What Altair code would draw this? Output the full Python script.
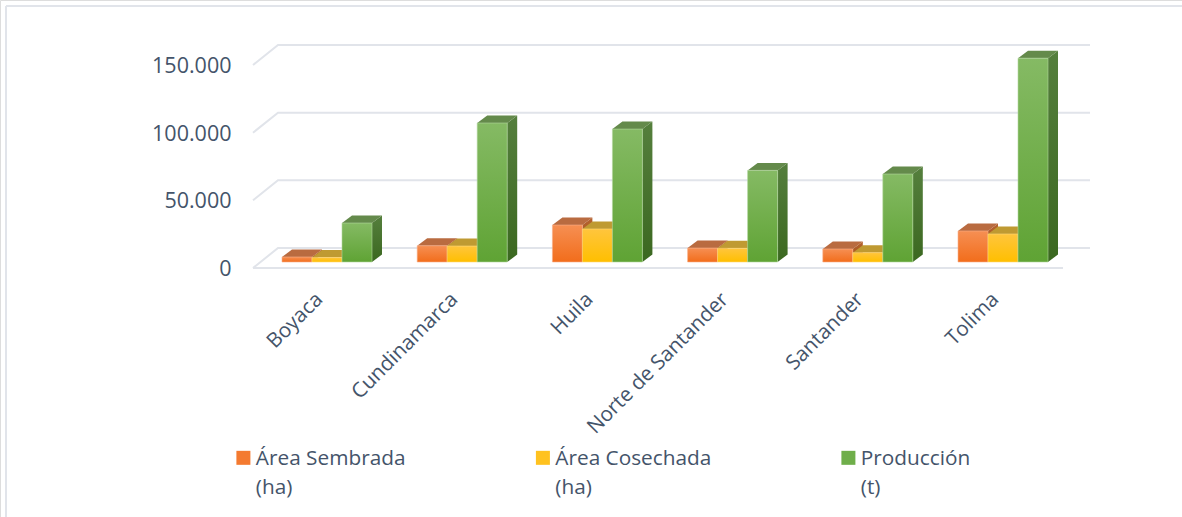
import altair as alt
import pandas as pd

# Cultivated area, harvested area and production by department
departments = ["Boyaca", "Cundinamarca", "Huila", "Norte de Santander", "Santander", "Tolima"]
sown_area = [3700, 12000, 27300, 10300, 9600, 22900]
harvested_area = [3300, 11800, 24400, 10100, 6900, 20700]
production = [28800, 102700, 98200, 67700, 65000, 150600]
series_names = ["Área Sembrada\n(ha)", "Área Cosechada\n(ha)", "Producción\n(t)"]
y_ticks = [0, 50000, 100000, 150000]

W, H = 1182, 517
PX_PER_GROUP = 135.2      # horizontal distance between departments
PX_PER_VALUE = 203 / 150000
FIRST_GROUP_PX = 327
ZERO_PX = 268             # baseline of the value axis, front of the floor
BAR_PX = 30
BAR_LIFT = 6              # bars stand slightly behind the front edge of the floor
DEPTH_X, DEPTH_Y = 10, 7.5
WALL_X, WALL_Y = 25, 20
FLOOR_LEFT, FLOOR_FRONT_RIGHT, WALL_RIGHT = 253, 1063, 1090
TEXT = "#44546a"
GRID = "#e1e4ea"


def dx(px):
    return px / PX_PER_GROUP


def dy(px):
    return px / PX_PER_VALUE


def x_at(px):
    return (px - FIRST_GROUP_PX) / PX_PER_GROUP


x_scale = alt.Scale(domain=[x_at(0), x_at(W)], nice=False, zero=False)
y_scale = alt.Scale(domain=[dy(ZERO_PX - H), dy(ZERO_PX)], nice=False, zero=False)


def gradient(top, bottom):
    return alt.Gradient(
        gradient="linear", x1=0, x2=0, y1=0, y2=1,
        stops=[alt.GradientStop(offset=0, color=top), alt.GradientStop(offset=1, color=bottom)],
    )


# Colours of each series: front (top, bottom), lit top face, shaded side (top, bottom), edge
palette = [
    dict(front=("#f68f53", "#f26d1b"), top="#b96b40", side=("#b5622f", "#a05219"), edge="#f8b08a"),
    dict(front=("#ffc53d", "#ffbf00"), top="#bf9a32", side=("#bf9430", "#b18a10"), edge="#ffd878"),
    dict(front=("#85ba64", "#5fa334"), top="#648a4b", side=("#557f3d", "#3b6820"), edge="#b3d6a0"),
]
values = [sown_area, harvested_area, production]

layers = []

# Walls and floor: each tick runs along the left wall, then across the back wall
grid_rows = []
for tick in y_ticks:
    path = [(FLOOR_LEFT, 0), (FLOOR_LEFT + WALL_X, WALL_Y), (WALL_RIGHT, WALL_Y)]
    for k, (px, lift) in enumerate(path):
        grid_rows.append(dict(tick=tick, k=k, x=x_at(px), y=tick + dy(lift)))
layers.append(
    alt.Chart(pd.DataFrame(grid_rows))
    .mark_line(color=GRID, strokeWidth=2)
    .encode(
        x=alt.X("x:Q", scale=x_scale,
                axis=alt.Axis(
                    values=list(range(len(departments))),
                    labelExpr="[" + ",".join(f"'{d}'" for d in departments) + "][datum.value]",
                    labelAngle=-45, labelAlign="right", labelBaseline="middle",
                    labelFont="Open Sans", labelFontSize=20.6, labelColor=TEXT,
                    labelOverlap=False, labelFlush=False, labelPadding=0,
                    labelBound=False, labelOffset=-8, labelLimit=400,
                    ticks=False, domain=False, grid=False, title=None,
                    offset=-(H - 296),
                )),
        y=alt.Y("y:Q", scale=y_scale,
                axis=alt.Axis(
                    values=y_ticks, format=",.0f",
                    labelExpr="replace(datum.label, ',', '.')",
                    labelFont="Open Sans", labelFontSize=21.5, labelColor=TEXT,
                    labelPadding=0, labelOverlap=False, labelFlush=False, labelBound=False,
                    labelOffset=1.5,
                    ticks=False, domain=False, grid=False, title=None, offset=-231,
                )),
        detail="tick:N",
        order="k:Q",
    )
)
floor_front = pd.DataFrame({"x": [x_at(FLOOR_LEFT), x_at(FLOOR_FRONT_RIGHT)], "y": [0, 0]})
layers.append(
    alt.Chart(floor_front).mark_line(color=GRID, strokeWidth=2).encode(
        x=alt.X("x:Q", scale=x_scale), y=alt.Y("y:Q", scale=y_scale))
)

# Each series is painted left to right so nearer faces cover the ones behind them
for s, (name, series, colours) in enumerate(zip(series_names, values, palette)):
    base = dy(BAR_LIFT)
    offset = (s - 1.5) * BAR_PX / PX_PER_GROUP
    front, top_face, side_face = [], [], []
    for i, (dept, v) in enumerate(zip(departments, series)):
        x0 = i + offset
        x1 = x0 + dx(BAR_PX)
        front.append(dict(dept=dept, x0=x0, x1=x1, y0=base, y1=base + v))
        for t in (0.0, 1.0):
            top_face.append(dict(dept=dept, y=base + v + t * dy(DEPTH_Y),
                                 xa=x0 + t * dx(DEPTH_X), xb=x1 + t * dx(DEPTH_X)))
            side_face.append(dict(dept=dept, x=x1 + t * dx(DEPTH_X),
                                  ya=base + t * dy(DEPTH_Y), yb=base + v + t * dy(DEPTH_Y)))
    layers.append(
        alt.Chart(pd.DataFrame(side_face))
        .mark_area(color=gradient(*colours["side"]), orient="vertical")
        .encode(x=alt.X("x:Q", scale=x_scale), y=alt.Y("yb:Q", scale=y_scale), y2="ya:Q", detail="dept:N")
    )
    layers.append(
        alt.Chart(pd.DataFrame(top_face))
        .mark_area(color=colours["top"], orient="horizontal")
        .encode(y=alt.Y("y:Q", scale=y_scale), x=alt.X("xa:Q", scale=x_scale), x2="xb:Q", detail="dept:N")
    )
    layers.append(
        alt.Chart(pd.DataFrame(front))
        .mark_bar(color=gradient(*colours["front"]), stroke=colours["edge"], strokeWidth=0.6)
        .encode(x=alt.X("x0:Q", scale=x_scale), x2="x1:Q", y=alt.Y("y0:Q", scale=y_scale), y2="y1:Q")
    )

# Legend, carried by a layer whose own marks have no size; the square sits level
# with the first line of its two-line label
legend_table = pd.DataFrame({"serie": series_names, "x": [0] * 3, "y": [0] * 3})
layers.append(
    alt.Chart(legend_table)
    .mark_square(size=0, opacity=1)
    .encode(
        x=alt.X("x:Q", scale=x_scale),
        y=alt.Y("y:Q", scale=y_scale),
        color=alt.Color(
            "serie:N",
            scale=alt.Scale(domain=series_names, range=["#f47a30", "#ffc21f", "#6fae4a"]),
            legend=alt.Legend(
                orient="none", legendX=233, legendY=438, direction="horizontal", columns=3,
                columnPadding=126.5, title=None, symbolType="M-1,0.29H1V2.29H-1Z",
                symbolSize=196, symbolStrokeWidth=0, symbolOpacity=1,
                labelFont="Open Sans", labelFontSize=20.8,
                labelColor=TEXT, labelLimit=300, labelOffset=2, labelBaseline="top",
                labelExpr="split(datum.label, '\\n')",
            ),
        ),
    )
)

# Page frame: top and left edges only
layers.append(alt.Chart(pd.DataFrame({"a": [0]})).mark_rule(color=GRID, strokeWidth=2).encode(
    x=alt.value(6), y=alt.value(6), y2=alt.value(H)))
layers.append(alt.Chart(pd.DataFrame({"a": [0]})).mark_rule(color=GRID, strokeWidth=2).encode(
    y=alt.value(6), x=alt.value(6), x2=alt.value(W)))

chart = (
    alt.layer(*layers)
    .properties(width=W, height=H, padding=0, autosize=alt.AutoSizeParams(type="none"))
    .configure_view(stroke=None)
    .configure(style={"guide-label": {"lineHeight": 29}})
)
chart.save("out.html", embed_options={"renderer": "svg", "actions": False})
